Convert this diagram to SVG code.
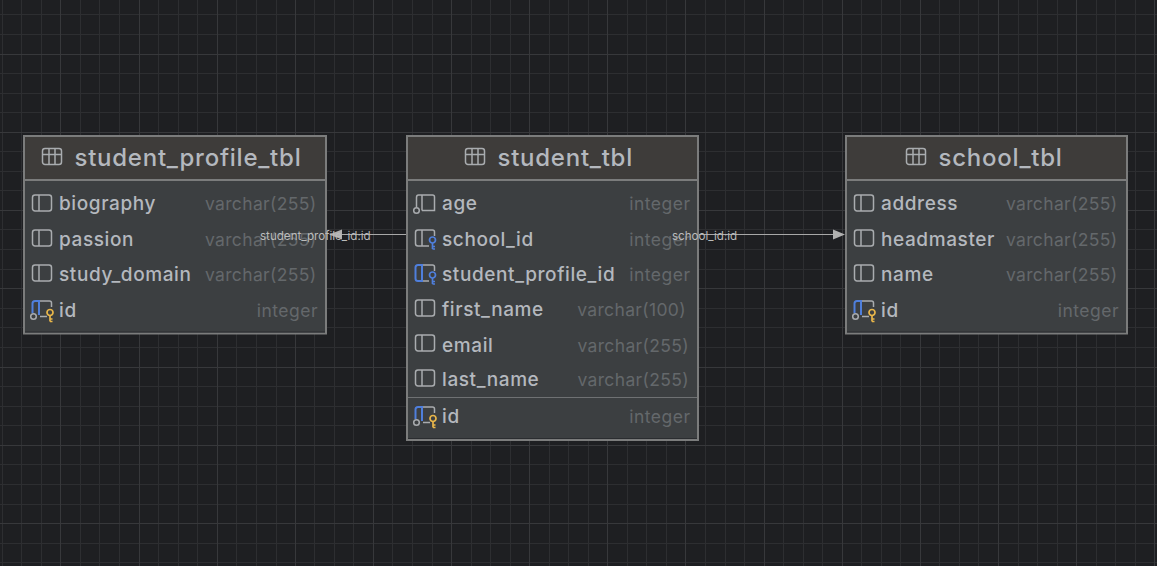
<svg xmlns="http://www.w3.org/2000/svg" width="1157" height="566" viewBox="0 0 1157 566">
<style>
.box{fill:#3c3f41;stroke:#7b7c7c;stroke-width:2}
.head{fill:#3e3c3a}
.sep{stroke:#7b7c7c;stroke-width:2}
.sep2{stroke:#6f7173;stroke-width:1}
.edge{stroke:#2b2d30;stroke-width:1}
text{font-family:"Inter","Liberation Sans",sans-serif}
.t{font-size:24px;font-weight:500;fill:#b4b8be;letter-spacing:.75px}
.n{font-size:19px;font-weight:500;fill:#b4b8be;letter-spacing:.6px}
.y{font-size:17.5px;fill:#64686b;letter-spacing:.5px;text-anchor:end}
.v{letter-spacing:.35px}
.l{font-size:11.600px;fill:#bbbbbb}
.ic{fill:none;stroke:#a9acaf;stroke-width:1.5}
.bl{fill:none;stroke:#4f7fdc;stroke-width:2}
.kb{fill:none;stroke:#4f7fdc;stroke-width:1.700}
.ky{fill:none;stroke:#e8b64a;stroke-width:1.700}
.rel{stroke:#a8a8a8;stroke-width:1;fill:none}
.minor{stroke:#2d2e31;stroke-width:1;fill:none}
.major{stroke:#37383b;stroke-width:1;fill:none}
</style>
<defs>
<g id="col"><rect x="0.500" y="0" width="19" height="16" rx="2.500" class="ic"/><path d="M7 0V16" class="ic"/></g>
<g id="tb"><rect x="0.500" y="0" width="19" height="16" rx="2.500" class="ic"/><path d="M0.500 6H19.500M7 0V16M13 0V16" class="ic"/></g>
<g id="key"><circle cx="0" cy="0" r="3"/><path d="M0 3V9M0 6.500H2.500M0 9H2.500"/></g>
<g id="notnull"><circle cx="0" cy="0" r="2.800" fill="#3c3f41" stroke="#a9acaf" stroke-width="1.500"/></g>
<g id="pk">
<path d="M8 15.500H15" class="ic"/><path d="M8 0H17.500Q19.500 0 19.500 2V6" class="ic"/>
<path d="M0.500 12V2.500Q0.500 0 3 0H7V14" class="bl"/>
<use href="#notnull" x="1.500" y="15.500"/><use href="#key" x="18" y="11.500" class="ky"/>
</g>
</defs>
<rect width="1157" height="566" fill="#1e1f22"/>
<g id="grid">
<path class="minor" d="M2.500 0V566M21.500 0V566M41.500 0V566M80.500 0V566M99.500 0V566M119.500 0V566M158.500 0V566M178.500 0V566M197.500 0V566M236.500 0V566M256.500 0V566M276.500 0V566M314.500 0V566M334.500 0V566M353.500 0V566M392.500 0V566M412.500 0V566M432.500 0V566M471.500 0V566M490.500 0V566M510.500 0V566M549.500 0V566M568.500 0V566M588.500 0V566M627.500 0V566M646.500 0V566M666.500 0V566M705.500 0V566M725.500 0V566M744.500 0V566M783.500 0V566M803.500 0V566M822.500 0V566M861.500 0V566M881.500 0V566M900.500 0V566M939.500 0V566M959.500 0V566M978.500 0V566M1018.500 0V566M1037.500 0V566M1057.500 0V566M1096.500 0V566M1115.500 0V566M1135.500 0V566M0 14.500H1157M0 34.500H1157M0 73.500H1157M0 93.500H1157M0 112.500H1157M0 151.500H1157M0 171.500H1157M0 190.500H1157M0 229.500H1157M0 249.500H1157M0 269.500H1157M0 308.500H1157M0 327.500H1157M0 347.500H1157M0 386.500H1157M0 406.500H1157M0 425.500H1157M0 464.500H1157M0 484.500H1157M0 504.500H1157M0 543.500H1157M0 562.500H1157"/>
<path class="major" d="M60.500 0V566M139.500 0V566M217.500 0V566M295.500 0V566M373.500 0V566M451.500 0V566M529.500 0V566M607.500 0V566M685.500 0V566M764.500 0V566M842.500 0V566M920.500 0V566M998.500 0V566M1076.500 0V566M1154.500 0V566M0 54.500H1157M0 132.500H1157M0 210.500H1157M0 288.500H1157M0 367.500H1157M0 445.500H1157M0 523.500H1157"/>
</g>
<g id="connectors">
<path d="M407 234.500H331" class="rel"/><path d="M329 234.500L342 229.500V239.500Z" fill="#b0b0b0"/>
<path d="M698 234.500H834" class="rel"/><path d="M845 234.500L833 229.500V239.500Z" fill="#b0b0b0"/>
</g>
<g id="student_profile_tbl">
<rect x="24" y="136" width="302" height="197.500" class="box"/>
<rect x="25" y="137" width="300" height="42" class="head"/>
<path d="M25 180H325" class="sep"/><path d="M25 332H325" class="edge"/>
<use href="#tb" x="42" y="148.500"/>
<text x="74.500" y="166" class="t">student_profile_tbl</text>
<use href="#col" x="32" y="195"/><text x="59" y="210" class="n">biography</text><text x="316.500" y="210" class="y v">varchar(255)</text>
<use href="#col" x="32" y="230"/><text x="59" y="246" class="n">passion</text><text x="316.500" y="246" class="y v">varchar(255)</text>
<use href="#col" x="32" y="265"/><text x="59" y="281" class="n">study_domain</text><text x="316.500" y="281" class="y v">varchar(255)</text>
<use href="#pk" x="32" y="301"/><text x="318" y="317" class="y">integer</text><text x="59" y="317" class="n">id</text>
</g>
<g id="student_tbl">
<rect x="407" y="136" width="291" height="304" class="box"/>
<rect x="408" y="137" width="289" height="42" class="head"/>
<path d="M408 180H697" class="sep"/><path d="M408 438.500H697" class="edge"/>
<use href="#tb" x="465" y="148.500"/>
<text x="497.500" y="166" class="t">student_tbl</text>
<g transform="translate(415 195)"><path d="M7 15.500H19.500V2Q19.500 0 17.500 0H3.500Q1.500 0 1.500 2.500V12M7 0V15.500" class="ic"/><use href="#notnull" x="1.500" y="15.500"/></g>
<text x="442" y="210" class="n">age</text><text x="690.500" y="210" class="y">integer</text>
<g transform="translate(415 230)"><path d="M14 16H3Q0.500 16 0.500 13.500V2.500Q0.500 0 3 0H17.500Q19.500 0 19.500 2V6M7 0V16" class="ic"/><use href="#key" x="17.500" y="10" class="kb"/></g>
<text x="442" y="246" class="n">school_id</text><text x="690.500" y="246" class="y">integer</text>
<g transform="translate(415 265)"><path d="M7 0H17.500Q19.500 0 19.500 2V6M7 16H14" class="ic"/><path d="M7 0H3Q0.500 0 0.500 2.500V13.500Q0.500 16 3 16H7Z" class="bl"/><use href="#key" x="17.500" y="10" class="kb"/></g>
<text x="442" y="281" class="n">student_profile_id</text><text x="690.500" y="281" class="y">integer</text>
<use href="#col" x="415" y="300"/><text x="442" y="316" class="n">first_name</text><text x="686" y="316" class="y v">varchar(100)</text>
<use href="#col" x="415" y="335"/><text x="442" y="351.500" class="n">email</text><text x="689" y="351.500" class="y v">varchar(255)</text>
<use href="#col" x="415" y="370"/><text x="442" y="386" class="n">last_name</text><text x="689" y="386" class="y v">varchar(255)</text>
<path d="M408 397.500H697" class="sep2"/>
<use href="#pk" x="415" y="407"/><text x="442" y="423" class="n">id</text><text x="690.500" y="423" class="y">integer</text>
</g>
<g id="school_tbl">
<rect x="846" y="136" width="281" height="197.500" class="box"/>
<rect x="847" y="137" width="279" height="42" class="head"/>
<path d="M847 180H1126" class="sep"/><path d="M847 332H1126" class="edge"/>
<use href="#tb" x="906" y="148.500"/>
<text x="938.500" y="166" class="t">school_tbl</text>
<use href="#col" x="854" y="195"/><text x="881" y="210" class="n">address</text><text x="1117.500" y="210" class="y v">varchar(255)</text>
<use href="#col" x="854" y="230"/><text x="881" y="246" class="n">headmaster</text><text x="1117.500" y="246" class="y v">varchar(255)</text>
<use href="#col" x="854" y="265"/><text x="881" y="281" class="n">name</text><text x="1117.500" y="281" class="y v">varchar(255)</text>
<use href="#pk" x="854" y="301"/><text x="881" y="317" class="n">id</text><text x="1119" y="317" class="y">integer</text>
</g>
<g id="labels">
<text x="260" y="240" class="l">student_profile_id:id</text>
<text x="672" y="240" class="l">school_id:id</text>
</g>
</svg>
